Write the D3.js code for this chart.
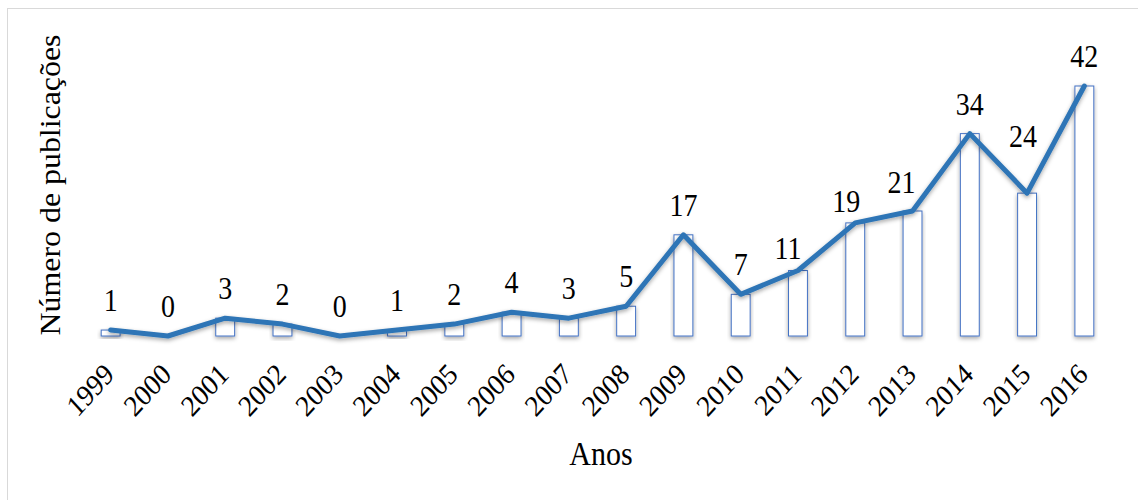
<!DOCTYPE html>
<html>
<head>
<meta charset="utf-8">
<script src="https://cdn.jsdelivr.net/npm/d3@7"></script>
<style>
  body { margin: 0; background: #fff; }
  svg text { font-family: "Liberation Serif", "Times New Roman", serif; fill: #000; }
</style>
</head>
<body>
<svg id="chart"></svg>
<script>
var anos = ["1999", "2000", "2001", "2002", "2003", "2004", "2005", "2006", "2007",
            "2008", "2009", "2010", "2011", "2012", "2013", "2014", "2015", "2016"];
var publicacoes = [1, 0, 3, 2, 0, 1, 2, 4, 3, 5, 17, 7, 11, 19, 21, 34, 24, 42];

// deslocamentos manuais de alguns rótulos (como no gráfico original)
var ajusteRotulo = { "2011": [-10, 7], "2012": [-9, 8], "2013": [-11, 1], "2015": [-4, -27] };

var svgWidth = 1138, svgHeight = 500;
var esticar = "scale(1,1.1)";
var fonte = "'Liberation Serif', 'Times New Roman', serif";

var svg = d3.select("#chart")
    .attr("width", svgWidth)
    .attr("height", svgHeight);

var defs = svg.append("defs");
var sombra = defs.append("filter").attr("id", "sombra")
    .attr("x", "-20%").attr("y", "-20%").attr("width", "140%").attr("height", "160%");
sombra.append("feDropShadow")
    .attr("dx", 0).attr("dy", 2).attr("stdDeviation", 2)
    .attr("flood-color", "#000").attr("flood-opacity", 0.35);

// moldura
svg.append("rect")
    .attr("x", 7.5).attr("y", 8.5)
    .attr("width", 1140).attr("height", 500)
    .attr("fill", "none").attr("stroke", "#d9d9d9");

var x = d3.scaleBand()
    .domain(anos)
    .range([82, 1113])
    .paddingInner(0.67)
    .paddingOuter(0.335);

var y = d3.scaleLinear()
    .domain([0, 42])
    .range([336, 86]);

function centro(ano) { return x(ano) + x.bandwidth() / 2; }

// eixo x
svg.append("line")
    .attr("x1", 82).attr("x2", 1113)
    .attr("y1", y(0)).attr("y2", y(0))
    .attr("stroke", "#d9d9d9").attr("stroke-width", 2)
    .attr("filter", "url(#sombra)");

// barras
svg.selectAll("rect.barra")
    .data(publicacoes)
    .enter()
    .append("rect")
    .attr("class", "barra")
    .attr("x", function(d, i) { return x(anos[i]); })
    .attr("y", function(d) { return y(d); })
    .attr("width", x.bandwidth())
    .attr("height", function(d) { return y(0) - y(d); })
    .attr("fill", "#fff")
    .attr("stroke", "#4472c4")
    .attr("stroke-width", 1)
    .attr("filter", "url(#sombra)");

// linha
var linha = d3.line()
    .x(function(d, i) { return centro(anos[i]); })
    .y(function(d) { return y(d); });

svg.append("path")
    .datum(publicacoes)
    .attr("d", linha)
    .attr("fill", "none")
    .attr("stroke", "#2e75b6")
    .attr("stroke-width", 5)
    .attr("stroke-linejoin", "round")
    .attr("stroke-linecap", "round")
    .attr("filter", "url(#sombra)");

// rótulos de dados
svg.selectAll("text.rotulo")
    .data(publicacoes)
    .enter()
    .append("text")
    .attr("class", "rotulo")
    .attr("text-anchor", "middle")
    .style("font-family", fonte)
    .style("font-size", "28px")
    .attr("transform", function(d, i) {
        var a = ajusteRotulo[anos[i]] || [0, 0];
        return "translate(" + (centro(anos[i]) + a[0]) + "," + (y(d) - 19 + a[1]) + ") " + esticar;
    })
    .text(function(d) { return d; });

// rótulos do eixo x
svg.selectAll("text.ano")
    .data(anos)
    .enter()
    .append("text")
    .attr("class", "ano")
    .attr("text-anchor", "end")
    .style("font-family", fonte)
    .style("font-size", "27px")
    .attr("transform", function(d) {
        return "translate(" + (centro(d) + 5) + ",376) " + esticar + " rotate(-45)";
    })
    .text(function(d) { return d; });

// títulos dos eixos
svg.append("text")
    .attr("transform", "translate(601,465) " + esticar)
    .attr("text-anchor", "middle")
    .style("font-family", fonte)
    .style("font-size", "30px")
    .text("Anos");

svg.append("text")
    .attr("transform", "translate(60,185) " + esticar + " rotate(-90)")
    .attr("text-anchor", "middle")
    .style("font-family", fonte)
    .style("font-size", "29px")
    .text("Número de publicações");
</script>
</body>
</html>
